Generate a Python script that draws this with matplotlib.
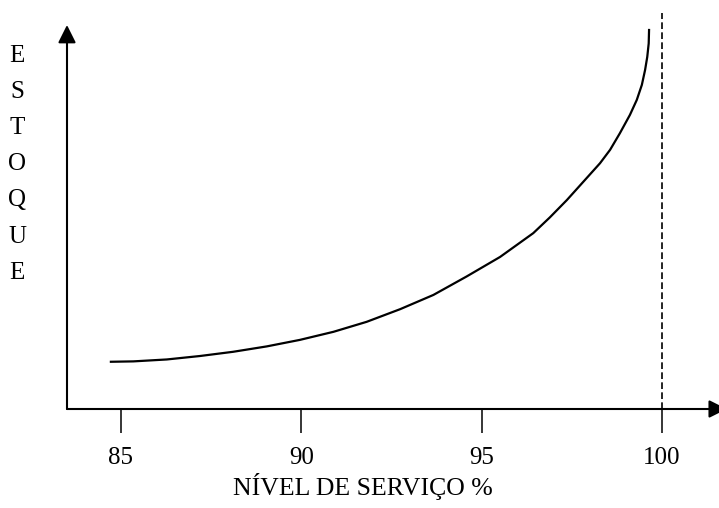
import matplotlib.pyplot as plt

# nivel de servico (%) x estoque (unidades arbitrarias)
nivel = [84.72, 85.34, 86.27, 87.19, 88.11, 89.04, 89.96, 90.89, 91.81,
         92.74, 93.66, 94.58, 95.51, 95.97, 96.43, 96.89, 97.36, 97.82,
         98.28, 98.56, 98.83, 99.11, 99.30, 99.44, 99.53, 99.59, 99.63,
         99.64]
estoque = [1.23, 1.24, 1.29, 1.38, 1.49, 1.63, 1.80, 2.01, 2.27,
           2.60, 2.97, 3.45, 3.96, 4.27, 4.58, 4.99, 5.44, 5.92,
           6.40, 6.75, 7.18, 7.66, 8.05, 8.44, 8.83, 9.17, 9.52,
           9.87]
ticks = [85, 90, 95, 100]
limite = 100
letras = list("ESTOQUE")

plt.rcParams['font.family'] = ['Liberation Serif', 'DejaVu Serif']

fig = plt.figure(figsize=(7.19, 5.08), dpi=100)
ax = fig.add_axes([67/719, 99/508, 652/719, 384/508])
ax.set_xlim(83.503, 101.579)
ax.set_ylim(0, 10)

for s in ax.spines.values():
    s.set_visible(False)

# eixos com setas
arrow = dict(arrowstyle='-|>', color='k', lw=1.5, mutation_scale=27,
             shrinkA=0, shrinkB=0)
ax.annotate('', xy=(0, 1), xytext=(0, 0), xycoords='axes fraction',
            arrowprops=arrow, annotation_clip=False)
ax.annotate('', xy=(1.012, 0), xytext=(0, 0), xycoords='axes fraction',
            arrowprops=arrow, annotation_clip=False)

ax.plot(nivel, estoque, color='k', lw=1.6, solid_joinstyle='round')
ax.axvline(limite, ymin=0, ymax=1.03, color='k', lw=1.2,
           linestyle=(0, (4, 2)), clip_on=False)

ax.set_xticks(ticks)
ax.set_xticklabels([str(t) for t in ticks], fontsize=18)
ax.tick_params(axis='x', direction='out', length=17, width=1.1, pad=10)
ax.set_yticks([])

fig.text(363/719, 1 - 487/508, 'NÍVEL DE SERVIÇO %', ha='center',
         va='center', fontsize=18.5)
for i, l in enumerate(letras):
    fig.text(17/719, 1 - (56 + 36.1*i)/508, l, ha='center', va='center',
             fontsize=18)

fig.savefig('out.png', dpi=100)
